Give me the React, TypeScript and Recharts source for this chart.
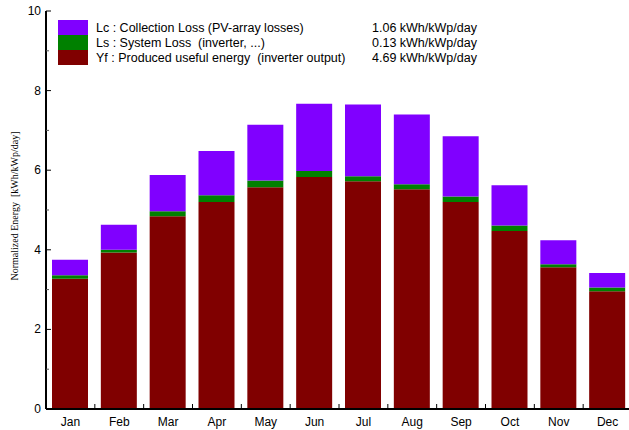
import React from 'react';
import { BarChart, Bar, XAxis, YAxis, Legend } from 'recharts';

const months = ['Jan', 'Feb', 'Mar', 'Apr', 'May', 'Jun', 'Jul', 'Aug', 'Sep', 'Oct', 'Nov', 'Dec'];
// produced useful energy (inverter output), kWh/kWp/day
const yfValues = [3.27, 3.93, 4.84, 5.2, 5.57, 5.83, 5.72, 5.52, 5.2, 4.47, 3.56, 2.96];
// system loss
const lsValues = [0.09, 0.07, 0.13, 0.17, 0.17, 0.15, 0.13, 0.13, 0.14, 0.14, 0.08, 0.09];
// collection loss
const lcValues = [0.39, 0.63, 0.91, 1.11, 1.4, 1.69, 1.8, 1.75, 1.51, 1.01, 0.6, 0.37];
const yTicks = [0, 1, 2, 3, 4, 5, 6, 7, 8, 9, 10];
const legendNames = [
  'Lc : Collection Loss (PV-array losses)',
  'Ls : System Loss  (inverter, ...)',
  'Yf : Produced useful energy  (inverter output)',
];
const legendValues = ['1.06 kWh/kWp/day', '0.13 kWh/kWp/day', '4.69 kWh/kWp/day'];

const data = months.map((m, i) => ({ month: m, yf: yfValues[i], ls: lsValues[i], lc: lcValues[i] }));

const CHART_W = 632;
const CHART_H = 430;
const LEFT_W = 46;
const BAND = (CHART_W - LEFT_W) / 12;
const SANS = 'Arial, "Liberation Sans", sans-serif';

const LeftTick = (props: any) => {
  const { x, y, payload } = props;
  const major = payload.value % 2 === 0;
  return (
    <g>
      <line x1={x} x2={x + (major ? 5 : 3)} y1={y} y2={y} stroke={major ? '#000' : '#555'} />
      {major && (
        <text x={x - 5} y={y} dy={4} textAnchor="end" fontSize={12} fontFamily={SANS} fill="#000">
          {payload.value}
        </text>
      )}
    </g>
  );
};

const RightTick = (props: any) => {
  const { x, y, payload } = props;
  const major = payload.value % 2 === 0;
  return <line x1={x} x2={x - (major ? 5 : 2)} y1={y} y2={y} stroke={major ? '#000' : '#888'} />;
};

const BottomTick = (props: any) => {
  const { x, y, payload, index } = props;
  const half = payload.offset || BAND / 2;
  return (
    <g>
      {index < 11 && <line x1={x + half} x2={x + half} y1={y} y2={y - 5} stroke="#000" />}
      <text x={x} y={y + 17} textAnchor="middle" fontSize={12} fontFamily={SANS} fill="#000">
        {payload.value}
      </text>
    </g>
  );
};

const TopTick = (props: any) => {
  const { x, y, payload, index } = props;
  const half = payload.offset || BAND / 2;
  if (index >= 11) return <g />;
  return <line x1={x + half} x2={x + half} y1={y} y2={y + 5} stroke="#000" />;
};

const YLabel = (props: any) => {
  const vb = props.viewBox || { x: 0, y: 11, width: LEFT_W, height: 398 };
  const cx = vb.x + 14;
  const cy = vb.y + vb.height / 2 - 4;
  return (
    <text
      x={cx}
      y={cy}
      transform={`rotate(-90 ${cx} ${cy})`}
      textAnchor="middle"
      dominantBaseline="central"
      fontSize={10}
      fontFamily='"Liberation Serif", "Times New Roman", serif'
      fill="#000"
      style={{ whiteSpace: 'pre' }}
    >
      Normalized Energy  [kWh/kWp/day]
    </text>
  );
};

const LegendBox = () => {
  const colors = ['#8000FF', '#008000', '#800000'];
  return (
    <div style={{ fontFamily: SANS, fontSize: 12.5, color: '#000' }}>
      {legendNames.map((name, i) => (
        <div key={name} style={{ display: 'flex', height: 15, lineHeight: '15px' }}>
          <div style={{ width: 30, height: 15, background: colors[i] }} />
          <div style={{ width: 276, paddingLeft: 8, paddingTop: 1, whiteSpace: 'pre' }}>{name}</div>
          <div style={{ paddingTop: 1, whiteSpace: 'pre' }}>{legendValues[i]}</div>
        </div>
      ))}
    </div>
  );
};

export default function App() {
  return (
    <div
      style={{
        position: 'absolute',
        left: 0,
        top: 0,
        width: 629,
        height: 430,
        overflow: 'hidden',
        background: '#fff',
      }}
    >
      <BarChart width={CHART_W} height={CHART_H} data={data} margin={{ top: 11, right: 0, bottom: 0, left: 0 }} barSize={36}>
        <XAxis
          dataKey="month"
          height={21}
          axisLine={{ stroke: '#000', strokeWidth: 2 }}
          tickLine={false}
          tickSize={0}
          tickMargin={0}
          tick={<BottomTick />}
          interval={0}
        />
        <XAxis
          xAxisId="top"
          orientation="top"
          dataKey="month"
          height={0}
          axisLine={{ stroke: '#000', strokeWidth: 2 }}
          tickLine={false}
          tickSize={0}
          tickMargin={0}
          tick={<TopTick />}
          interval={0}
        />
        <YAxis
          width={LEFT_W}
          domain={[0, 10]}
          ticks={yTicks}
          interval={0}
          axisLine={{ stroke: '#000', strokeWidth: 2 }}
          tickLine={false}
          tickSize={0}
          tickMargin={0}
          tick={<LeftTick />}
          label={<YLabel />}
        />
        <YAxis
          yAxisId="r"
          orientation="right"
          width={0}
          domain={[0, 10]}
          ticks={yTicks}
          interval={0}
          axisLine={{ stroke: '#000', strokeWidth: 2 }}
          tickLine={false}
          tickSize={0}
          tickMargin={0}
          tick={<RightTick />}
        />
        <Legend
          layout="vertical"
          align="center"
          verticalAlign="middle"
          wrapperStyle={{ top: 20, left: 58, width: 450 }}
          content={<LegendBox />}
        />
        <Bar dataKey="yf" stackId="a" fill="#800000" isAnimationActive={false} />
        <Bar dataKey="ls" stackId="a" fill="#008000" isAnimationActive={false} />
        <Bar dataKey="lc" stackId="a" fill="#8000FF" isAnimationActive={false} />
      </BarChart>
    </div>
  );
}
